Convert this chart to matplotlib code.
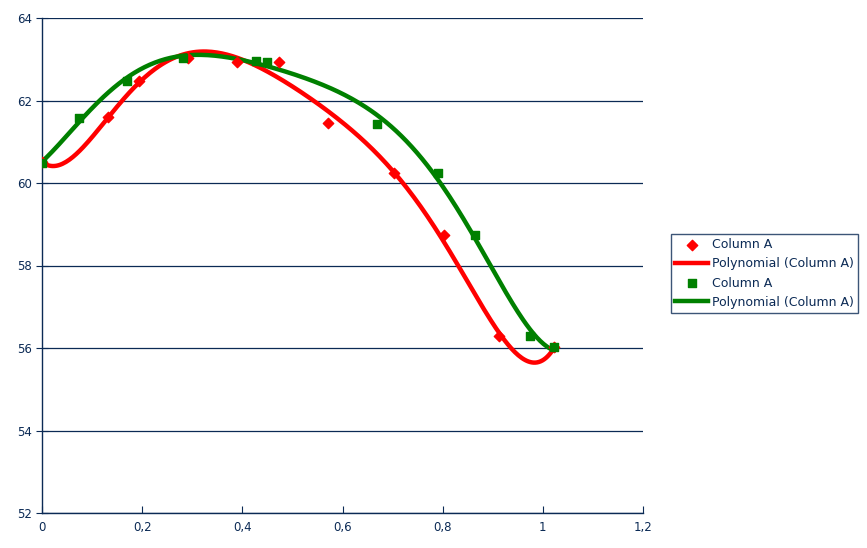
import numpy as np
import matplotlib
matplotlib.use("Agg")
import matplotlib.pyplot as plt
from matplotlib.ticker import FuncFormatter, MultipleLocator

# points
red_x = [0.0, 0.132, 0.194, 0.291, 0.390, 0.474, 0.571, 0.702, 0.802, 0.912, 1.023]
red_y = [60.5, 61.6, 62.48, 63.04, 62.93, 62.93, 61.45, 60.24, 58.74, 56.29, 56.03]
green_x = [0.0, 0.074, 0.170, 0.281, 0.427, 0.450, 0.669, 0.790, 0.864, 0.974, 1.022]
green_y = [60.48, 61.58, 62.48, 63.03, 62.95, 62.93, 61.43, 60.24, 58.74, 56.29, 56.03]

NAVY = "#0b2a55"
POLY_ORDER = 6


def trend(x, y, order=POLY_ORDER):
    coef = np.polyfit(x, y, order)
    xs = np.linspace(min(x), max(x), 300)
    return xs, np.polyval(coef, xs)


def comma(v, pos):
    s = ("%.1f" % v).rstrip("0").rstrip(".")
    return s.replace(".", ",")


fig = plt.figure(figsize=(8.67, 5.48), dpi=100)
ax = fig.add_axes([42 / 867, 35 / 548, 601 / 867, 495 / 548])

ax.scatter(red_x, red_y, marker="D", s=28, color="#ff0000", zorder=4, label="Column A")
rx, ry = trend(red_x, red_y)
ax.plot(rx, ry, color="#ff0000", lw=3.2, zorder=3, label="Polynomial (Column A)")
ax.scatter(green_x, green_y, marker="s", s=40, color="#008000", zorder=4, label="Column A")
gx, gy = trend(green_x, green_y)
ax.plot(gx, gy, color="#008000", lw=3.2, zorder=3, label="Polynomial (Column A)")

ax.set_xlim(0, 1.2)
ax.set_ylim(52, 64)
ax.xaxis.set_major_locator(MultipleLocator(0.2))
ax.yaxis.set_major_locator(MultipleLocator(2))
ax.xaxis.set_major_formatter(FuncFormatter(comma))
ax.yaxis.set_major_formatter(FuncFormatter(comma))
ax.grid(axis="y", color=NAVY, lw=0.9)
ax.set_axisbelow(True)

for side in ["top", "right"]:
    ax.spines[side].set_visible(False)
for side in ["left", "bottom"]:
    ax.spines[side].set_color(NAVY)
    ax.spines[side].set_linewidth(1.0)
ax.tick_params(axis="x", direction="in", length=5, colors=NAVY, labelsize=8.5, pad=6)
ax.tick_params(axis="y", direction="inout", length=8, colors=NAVY, labelsize=8.5, pad=3)

leg = ax.legend(loc="center left", bbox_to_anchor=(1.0466, 0.484), fontsize=9,
                frameon=True, fancybox=False, borderpad=0.35, labelspacing=0.5,
                handlelength=2.6, handletextpad=0.3, scatterpoints=1,
                borderaxespad=0)
leg.get_frame().set_edgecolor(NAVY)
leg.get_frame().set_linewidth(1.0)
for t in leg.get_texts():
    t.set_color(NAVY)

fig.savefig("out.png", dpi=100)
